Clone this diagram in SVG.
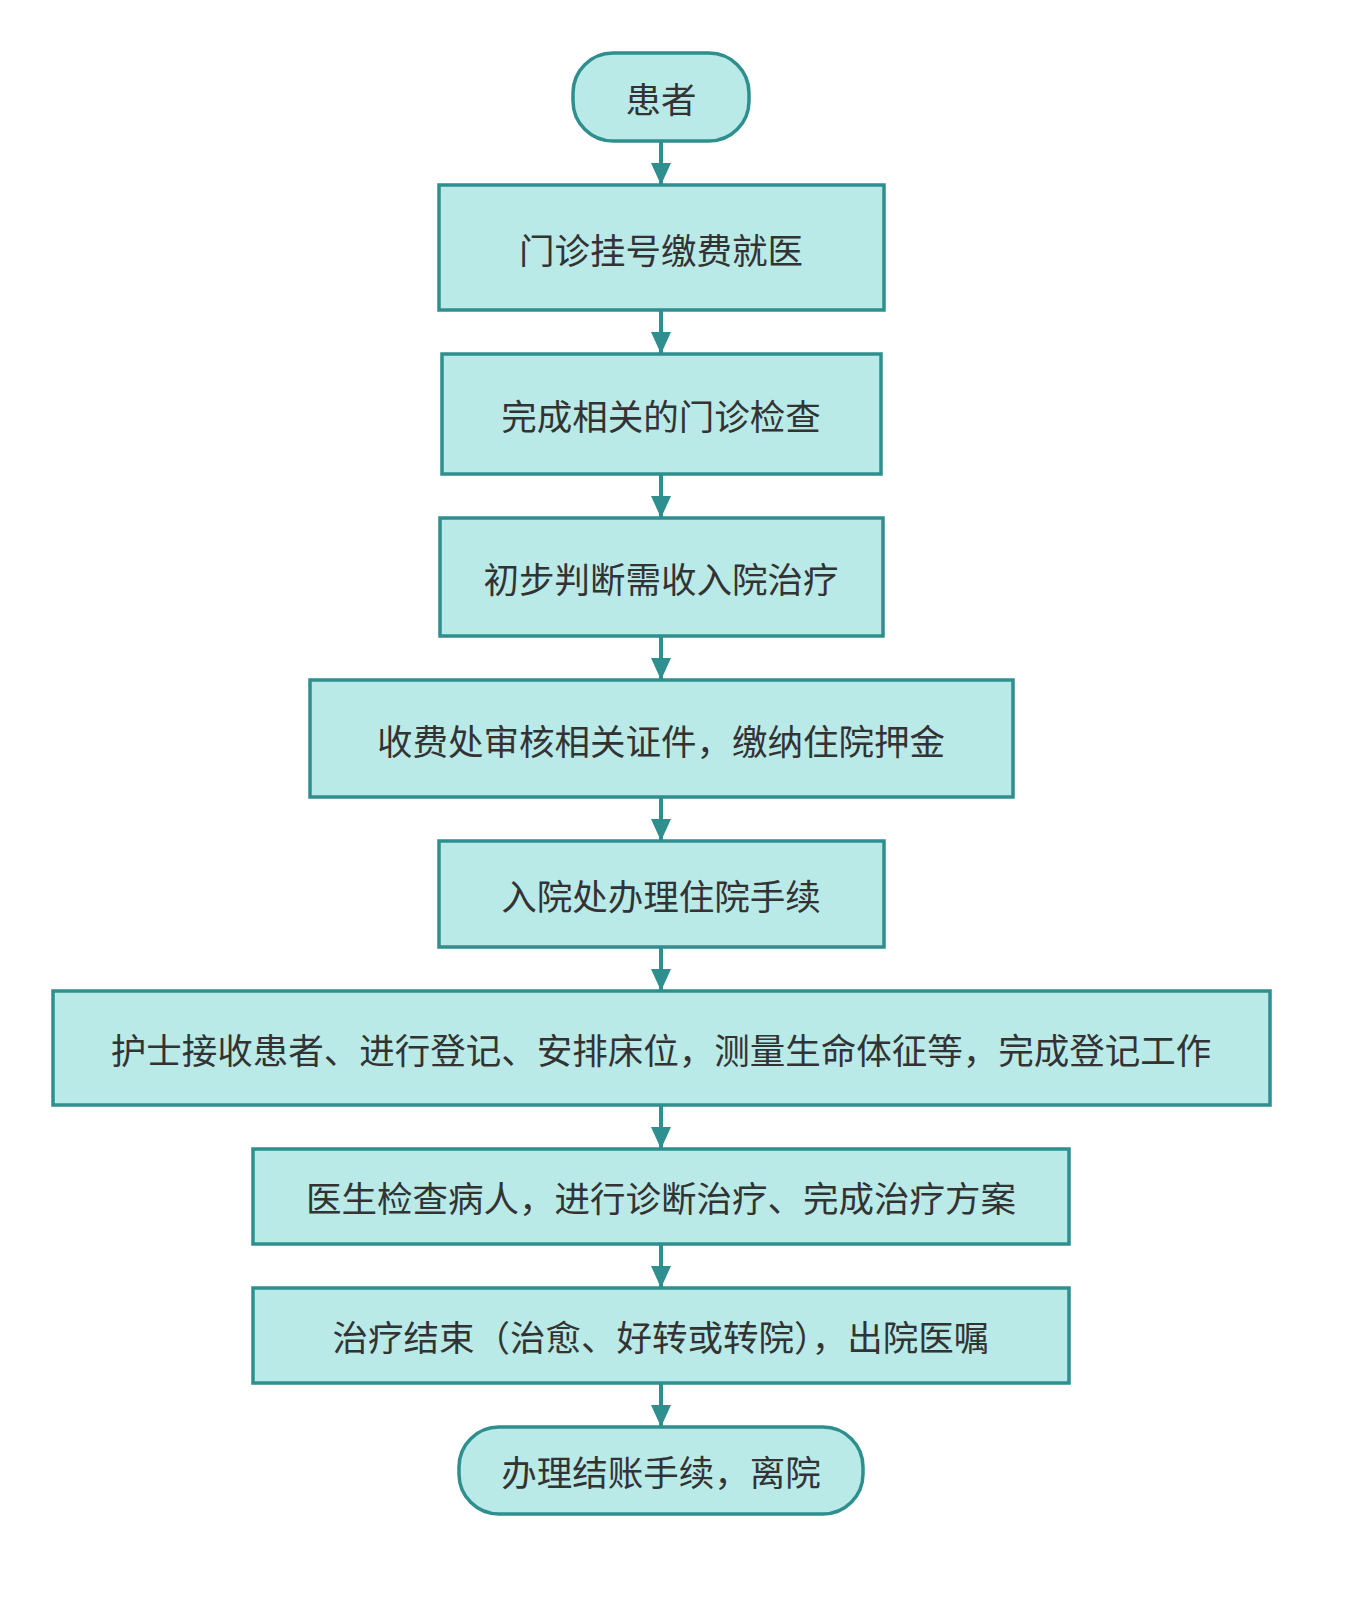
<svg xmlns="http://www.w3.org/2000/svg" width="1350" height="1600" viewBox="0 0 1350 1600">
<style>
.n{fill:#b9eae8;stroke:#2f8f8f;stroke-width:3.5}
.t{font-family:"Noto Sans CJK SC","Noto Sans",sans-serif;font-size:35.5px;fill:#333;text-anchor:middle;dominant-baseline:central}
.c{stroke:#2f8f8f;stroke-width:4;fill:none;marker-end:url(#b)}
</style>
<defs><marker id="b" markerWidth="24" markerHeight="24" refX="22" refY="12" orient="auto" markerUnits="userSpaceOnUse"><path d="M0,2L22,12L0,22z" fill="#2f8f8f"/></marker></defs>
<rect width="1350" height="1600" fill="#fff"/>
<g id="connectors">
<path d="M661,141V185" class="c"/>
<path d="M661,310V354" class="c"/>
<path d="M661,474V518" class="c"/>
<path d="M661,636V680" class="c"/>
<path d="M661,797V841" class="c"/>
<path d="M661,947V991" class="c"/>
<path d="M661,1105V1149" class="c"/>
<path d="M661,1244V1288" class="c"/>
<path d="M661,1383V1427" class="c"/>
</g>
<g id="n0"><rect class="n" x="573" y="53" width="176" height="88" rx="40"/><text class="t" x="661" y="97">患者</text></g>
<g id="n1"><rect class="n" x="439" y="185" width="445" height="125"/><text class="t" x="661" y="248">门诊挂号缴费就医</text></g>
<g id="n2"><rect class="n" x="442" y="354" width="439" height="120"/><text class="t" x="661" y="414">完成相关的门诊检查</text></g>
<g id="n3"><rect class="n" x="440" y="518" width="443" height="118"/><text class="t" x="661" y="577">初步判断需收入院治疗</text></g>
<g id="n4"><rect class="n" x="310" y="680" width="703" height="117"/><text class="t" x="661" y="739">收费处审核相关证件，缴纳住院押金</text></g>
<g id="n5"><rect class="n" x="439" y="841" width="445" height="106"/><text class="t" x="661" y="894">入院处办理住院手续</text></g>
<g id="n6"><rect class="n" x="53" y="991" width="1217" height="114"/><text class="t" x="661" y="1048">护士接收患者、进行登记、安排床位，测量生命体征等，完成登记工作</text></g>
<g id="n7"><rect class="n" x="253" y="1149" width="816" height="95"/><text class="t" x="661" y="1196">医生检查病人，进行诊断治疗、完成治疗方案</text></g>
<g id="n8"><rect class="n" x="253" y="1288" width="816" height="95"/><text class="t" x="661" y="1335">治疗结束（治愈、好转或转院），出院医嘱</text></g>
<g id="n9"><rect class="n" x="459" y="1427" width="404" height="87" rx="40"/><text class="t" x="661" y="1470">办理结账手续，离院</text></g>
</svg>
